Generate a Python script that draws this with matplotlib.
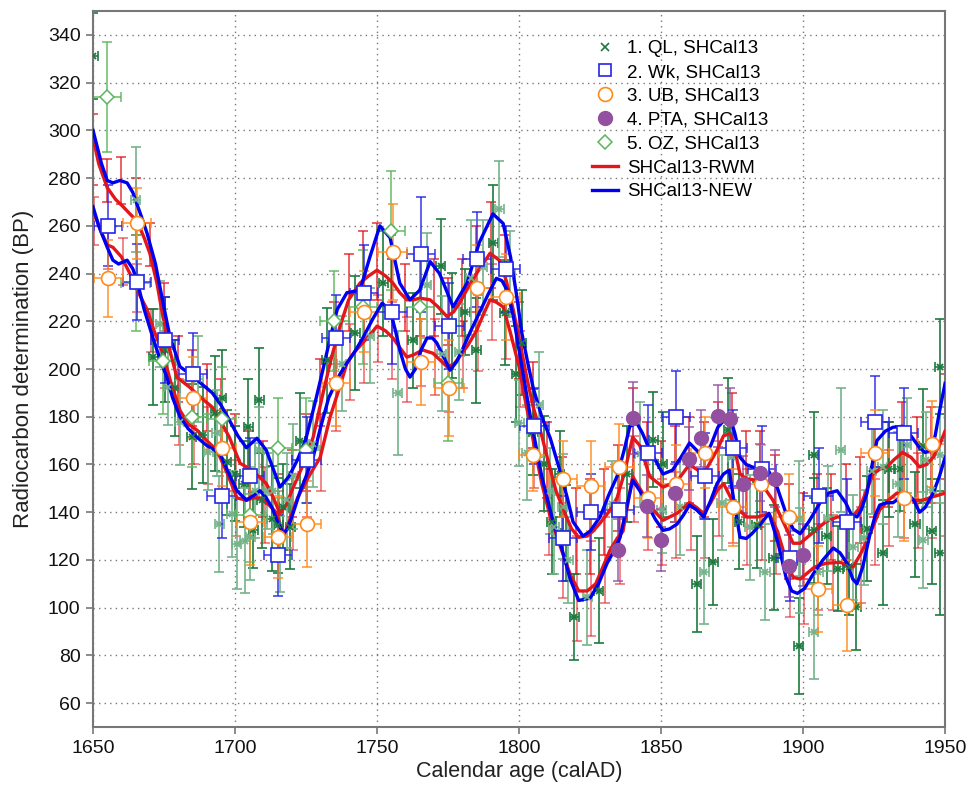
import numpy as np
import matplotlib
matplotlib.use("Agg")
from matplotlib import pyplot as plt
from matplotlib.lines import Line2D

plt.rcParams['font.family'] = ['Liberation Sans', 'DejaVu Sans']

# ---- dataset 1: QL ----
ql_x = [1650, 1665, 1671.2, 1673.6, 1675.4, 1676.5, 1679, 1680.6, 1684.7, 1687, 1688.8, 1690.6,
        1693, 1693.6, 1695.3, 1694.5, 1697, 1698.8, 1700, 1700.6, 1703, 1703.5, 1704.7, 1705.3,
        1706.5, 1707, 1708.6, 1708.6, 1709.4, 1711.2, 1713, 1713.5, 1715.2, 1715.8, 1717, 1718.2,
        1719.4, 1720.5, 1722.9, 1727.6, 1732.3, 1737.6, 1742.3, 1747.5, 1752.2, 1757.3, 1762.6,
        1767.5, 1772.4, 1772.8, 1776.3, 1779, 1781, 1783, 1785, 1787.2, 1791, 1793, 1795, 1796.8,
        1799, 1800, 1801, 1802.7, 1805, 1807, 1808.8, 1810.9, 1811.5, 1812.3, 1814.4, 1815.4,
        1816.4, 1817.4, 1819.4, 1824, 1828, 1832.7, 1838, 1842.6, 1847.3, 1850.3, 1850.6, 1856.7,
        1862.6, 1865.2, 1868.4, 1871.4, 1873.7, 1875, 1877.6, 1881.3, 1883.7, 1886.6, 1889.6,
        1898.4, 1898.4, 1899, 1903.7, 1903.7, 1903.7, 1905.4, 1908.3, 1908.9, 1912.4, 1913.3,
        1916, 1917.7, 1918.7, 1921.5, 1922.5, 1924.2, 1928, 1928, 1930.4, 1933.3, 1934.1, 1936.5,
        1939.4, 1942.4, 1942.4, 1943.3, 1945.3, 1945.3, 1948.2, 1948.2, 1948.2]
ql_y = [331, 271, 205, 219, 208, 192.5, 192, 177.6, 171.6, 196, 172.3, 165.2,
        181.4, 173, 188, 135, 161, 139.4, 156.2, 126.8, 152, 128, 175.7, 129.6,
        132.5, 149, 187, 166, 145, 149, 137.3, 149, 134.5, 122.6, 142.2, 145,
        134, 155, 170, 168.7, 203.7, 202.3, 215, 214, 236, 190, 212,
        235, 243, 206.5, 218.4, 207.2, 224, 238.3, 207.8, 242.6, 253, 267, 223.5, 240,
        198, 177.4, 211, 165, 173.6, 185, 160.4, 149, 136, 134, 156, 142.2,
        131.3, 120, 96, 104.3, 107, 143.3, 156, 164.3, 170.4, 141, 160, 142,
        110, 115, 119, 144, 174.4, 163, 136, 133.7, 134.5, 115, 121,
        137.3, 84, 119.8, 164, 90, 132.4, 115, 130, 137.3, 116.4, 166.2,
        117, 125.4, 100.3, 129.4, 133, 157.3, 123, 159, 158, 151.7, 158.3, 168,
        135, 128.3, 167.8, 162, 132, 149.5, 123, 164, 201]
ql_err = [18, 22, 20, 18, 22, 16, 20, 18, 22, 18, 20, 16,
          24, 18, 20, 20, 22, 18, 20, 19, 18, 22, 20, 18,
          16, 20, 22, 18, 20, 16, 22, 18, 20, 16, 18, 20,
          18, 22, 20, 18, 22, 20, 24, 20, 22, 26, 20,
          22, 20, 24, 22, 20, 18, 24, 22, 20, 24, 20, 22, 18,
          20, 18, 22, 20, 18, 22, 20, 18, 22, 20, 18, 22,
          20, 18, 18, 20, 22, 18, 20, 22, 20, 18, 22, 20,
          20, 22, 18, 20, 22, 18, 20, 22, 18, 20, 22,
          24, 20, 22, 18, 20, 22, 18, 20, 22, 18, 26,
          20, 22, 18, 20, 22, 18, 22, 24, 20, 22, 18, 20,
          22, 20, 24, 20, 22, 18, 26, 20, 20]

# ---- dataset 2: Wk ----
wk_x = [1655.3, 1665.4, 1675.4, 1685.3, 1695.3, 1705.3, 1715.2, 1725.2, 1735.5, 1745.4, 1755.4,
        1765.4, 1775.5, 1785.3, 1795.3, 1805.4, 1815.4, 1825.4, 1835.3, 1845.3, 1855.3, 1865.5,
        1875.3, 1885.5, 1895.5, 1905.5, 1915.4, 1925.4, 1935.4]
wk_y = [260, 236.5, 212, 198, 147, 155, 122, 162, 213, 232, 224,
        248, 218, 246, 242, 176, 129, 140, 141, 165, 180, 155,
        167, 158, 121, 147, 136, 178, 173]
wk_err = [17, 16, 18, 17, 18, 16, 17, 18, 18, 20, 22,
          24, 18, 20, 18, 16, 18, 16, 18, 20, 19, 18,
          16, 18, 18, 20, 18, 19, 19]

# ---- dataset 3: UB ----
ub_x = [1655.4, 1665.4, 1685.3, 1695.3, 1705.3, 1715.2, 1725.2, 1735.5, 1745.4, 1755.5, 1765.4,
        1775.5, 1785.3, 1795.3, 1805, 1815.4, 1825.4, 1835.3, 1845.3, 1855.3, 1865.5, 1875.3,
        1885.2, 1895.2, 1905.2, 1915.4, 1925.4, 1935.4, 1945.4]
ub_y = [238, 261, 188, 167, 136, 129.6, 135, 194, 224, 249, 203,
        192, 234, 230, 164, 154, 151, 159, 146, 152, 165, 142,
        152, 138, 108, 101, 165, 146, 168.5]
ub_err = [16, 15, 17, 16, 18, 17, 18, 18, 17, 20, 18,
          20, 18, 18, 15, 16, 19, 18, 17, 16, 15, 16,
          16, 18, 18, 19, 18, 18, 18]

# ---- dataset 4: PTA ----
pta_x = [1835, 1840, 1845, 1850, 1855, 1860, 1864, 1870, 1874.4, 1879, 1885, 1890, 1895, 1900]
pta_y = [124, 179.6, 142.5, 128.5, 148, 162.5, 171, 180.3, 179, 151.7, 156.5, 154, 117.3, 122]
pta_err = [13, 15, 13, 13, 12, 13, 12, 13, 13, 12, 12, 12, 13, 13]

# ---- dataset 5: OZ ----
oz_x = [1655, 1665, 1674.6, 1685, 1695.3, 1705.3, 1715, 1725, 1735, 1745, 1755, 1765, 1775]
oz_y = [314, 236, 203.3, 180, 179, 139, 167, 166, 220, 226, 258, 226, 194]
oz_err = [23, 20, 22, 21, 22, 20, 21, 22, 21, 24, 25, 22, 24]

# ---- red error bars ----
rb_x = list(range(1650, 1951, 5))
rb_hi = [292, 279, 279, 268, 252, 222, 200, 192, 188, 180, 165, 160, 154, 142, 152, 165,
         190, 212, 232, 240, 245, 240, 230, 232, 230, 224, 230, 242, 252, 240, 212, 185,
         162, 145, 132, 134, 140, 150, 172, 160, 152, 156, 162, 158, 168, 170, 156, 154,
         146, 132, 130, 136, 138, 140, 145, 158, 160, 166, 162, 164, 176]
rb_lo = [262, 250, 245, 234, 216, 204, 182, 174, 168, 160, 146, 144, 143, 135, 140, 152,
         165, 188, 203, 210, 217, 212, 204, 207, 205, 200, 206, 215, 228, 222, 200, 168,
         140, 124, 108, 108, 120, 130, 154, 144, 136, 139, 144, 139, 150, 145, 138, 138,
         134, 114, 113, 117, 119, 118, 122, 136, 146, 147, 145, 147, 150]
rb_err_hi = [15, 9, 10, 12, 9, 14, 14, 16, 14, 16, 16, 14, 16, 14, 14, 16,
             14, 16, 16, 18, 16, 16, 14, 18, 16, 14, 16, 18, 18, 16, 16, 18,
             16, 18, 18, 20, 18, 18, 20, 18, 18, 20, 18, 20, 18, 20, 18, 20,
             18, 20, 18, 20, 18, 20, 18, 20, 18, 20, 18, 20, 22]
rb_err_lo = [10, 8, 10, 10, 9, 12, 14, 14, 16, 14, 16, 14, 16, 14, 16, 14,
             16, 14, 16, 16, 14, 16, 18, 14, 16, 18, 14, 16, 16, 18, 16, 18,
             18, 20, 22, 20, 18, 20, 18, 20, 18, 18, 20, 18, 20, 18, 20, 18,
             20, 18, 20, 18, 20, 18, 20, 18, 20, 18, 20, 18, 20]

# ---- SHCal13-RWM envelope ----
rwm_hi_x = [1650, 1652, 1655, 1658, 1660.6, 1663, 1665.5, 1668, 1670, 1672.5, 1674.6, 1677, 1679.5,
            1684, 1688, 1692, 1695, 1698, 1701.8, 1706, 1711, 1713.5, 1715.8, 1718, 1720, 1724,
            1727.5, 1731, 1734, 1737, 1740, 1744, 1747, 1750, 1753, 1755.6, 1758, 1760.5, 1763,
            1765, 1768.7, 1771.5, 1774.6, 1777, 1779, 1782, 1785, 1789.8, 1793, 1795.5, 1798,
            1800.5, 1802.8, 1805, 1808, 1811, 1813, 1816, 1818.5, 1821, 1824, 1826, 1828.5,
            1831.5, 1834.5, 1837, 1840, 1842.5, 1846, 1850.7, 1855.6, 1860, 1865, 1869.7, 1872,
            1874.3, 1876, 1877.8, 1880, 1883.8, 1886.5, 1889.4, 1893, 1896.5, 1899, 1901, 1904,
            1908, 1912, 1915.5, 1918, 1920, 1922, 1924.6, 1927, 1929.6, 1932, 1935, 1938, 1941,
            1943.5, 1945.8, 1948, 1950]
rwm_hi_y = [297, 286, 276, 271, 268, 265, 262, 255, 248.5, 236, 222, 208, 196.6,
            192.4, 188, 184, 178, 171.4, 160.5, 157.6, 152, 146, 139.5, 143, 149, 160,
            171.4, 190, 205, 218, 229, 236, 239, 241.4, 239, 236, 232, 229, 229,
            229.7, 229, 226, 222, 224, 227.6, 234, 240, 248.5, 245.6, 237, 224.6,
            210, 196, 184, 172, 158, 149, 140, 133, 129.5, 130, 132, 135.4,
            140, 146, 156, 171.4, 168, 155, 150.5, 153, 160, 156, 166, 172,
            173, 166, 156, 154, 153.4, 150, 145, 136, 127, 127, 129, 132,
            136, 138, 138, 139, 142, 148, 156, 158, 159, 162, 165, 163, 159,
            160, 163, 168, 174]
rwm_lo_x = [1650, 1653, 1655, 1657, 1660, 1663, 1666, 1669, 1671.5, 1674.6, 1677.5, 1680.6, 1683.5,
            1686.6, 1690, 1693.6, 1697, 1700.7, 1704, 1706.5, 1708.8, 1712, 1714.8, 1717, 1719,
            1722, 1726, 1730, 1733.5, 1737, 1739.4, 1742, 1745, 1748, 1750, 1753, 1755.6, 1758,
            1760.5, 1763, 1766, 1769.7, 1772, 1774.6, 1777, 1779, 1782, 1785, 1787.5, 1789.8,
            1792, 1794.4, 1797, 1800, 1802, 1805, 1808, 1811, 1815, 1818, 1821, 1824, 1827,
            1829.5, 1832, 1834.5, 1836.6, 1838.5, 1840, 1842.5, 1845, 1848, 1850.7, 1853,
            1855.6, 1858, 1860, 1862.5, 1865, 1867.5, 1869.7, 1872, 1875, 1877.5, 1880, 1884,
            1888, 1891, 1894, 1896.5, 1899, 1901, 1904, 1908, 1913, 1917.6, 1920, 1922.5, 1925,
            1927, 1930, 1933, 1936, 1938.7, 1942, 1945.8, 1950]
rwm_lo_y = [266.6, 257, 252, 251, 247, 240, 232, 225, 216, 206.6, 194, 182.7, 177,
            174.4, 170, 166, 157, 146, 145, 146, 146, 143, 139.5, 129.5, 136,
            146, 155, 163, 180, 193, 202.5, 207, 211, 215, 218, 216, 213, 209,
            205, 206, 208, 206.6, 204, 201, 202, 205, 210, 216, 223, 229,
            228, 226, 215, 201, 188, 170, 152, 138, 124, 114, 107, 107, 110,
            117, 124, 129, 132, 145, 155, 150, 145, 140, 136.6, 138,
            139.5, 142, 144, 142, 139.5, 144, 149, 152, 145, 141, 138, 138,
            139.5, 132, 120, 112.7, 112, 114, 117, 118.6, 119, 117, 122, 128, 135,
            141, 145, 148, 147, 145, 145, 146.5, 148]

# ---- SHCal13-NEW envelope ----
new_hi_x = [1650, 1653, 1655, 1657, 1659.5, 1662, 1664, 1667, 1669, 1672, 1674.6, 1677, 1680.6,
            1684, 1688, 1692, 1695, 1698, 1701, 1704, 1707.7, 1711, 1713.5, 1715.8, 1719, 1722,
            1725, 1728, 1731, 1733.5, 1736, 1739.4, 1744, 1747.5, 1751, 1754.6, 1758, 1761.6,
            1765, 1768.7, 1772, 1776.8, 1781.7, 1786, 1790.8, 1794.4, 1797, 1799, 1801, 1803,
            1805, 1808, 1811, 1814, 1817, 1819, 1822.5, 1825, 1828.5, 1831.5, 1834.5, 1837, 1839,
            1841.5, 1843.5, 1846, 1850.7, 1854, 1857, 1860, 1862.5, 1865, 1867.5, 1870, 1874,
            1876, 1877.8, 1880, 1882, 1885, 1888, 1891, 1894, 1896.5, 1899, 1902, 1906, 1909,
            1912, 1915, 1917, 1919, 1920.5, 1922.5, 1924, 1926, 1929, 1931.7, 1935, 1938, 1941,
            1943, 1944.7, 1946.5, 1948, 1950]
new_hi_y = [300, 286, 279, 278, 279, 278, 274, 264, 257, 244, 228, 214, 201,
            198, 194, 190, 185, 178.6, 172, 167, 171, 166, 158, 150.5, 155, 162,
            171, 185, 200, 213, 225, 232, 233, 247, 260, 255, 236, 229,
            233, 245, 240, 226, 236, 253, 265, 261, 247, 232, 215, 203,
            192, 180, 171, 159, 146, 136, 130, 132, 138, 147, 155, 166, 176,
            177.3, 173, 166, 156, 157.6, 163, 169, 166, 163, 168, 175.6, 181,
            173, 163, 160, 159, 158, 157, 150, 139.5, 133, 131, 136, 144, 148,
            149, 144, 139, 138, 141, 148, 158, 170, 174, 175.6, 176, 172, 167,
            165, 166, 172, 182, 194]
new_lo_x = [1650, 1652, 1655, 1657, 1659, 1662, 1664, 1665.5, 1668, 1671, 1673.6, 1676, 1678,
            1680.6, 1683.5, 1686.6, 1690, 1694.7, 1697.5, 1700.7, 1704, 1706.5, 1708.8, 1711,
            1713, 1715, 1717, 1718.5, 1720, 1723, 1725, 1727.5, 1730, 1733, 1737, 1739.4, 1742,
            1745, 1748.5, 1751.8, 1754.6, 1756.5, 1758, 1760, 1761.6, 1763.5, 1765.5, 1767.6,
            1769.5, 1771, 1773.5, 1775.7, 1778, 1780, 1783, 1786, 1789, 1792, 1794, 1795.8,
            1798, 1800, 1804, 1808, 1812, 1815, 1818, 1821, 1825, 1828, 1831, 1833.5, 1835.6,
            1837.5, 1840, 1842.5, 1845, 1848, 1850.7, 1853, 1855.6, 1858, 1860, 1862.5, 1865,
            1867.5, 1869.7, 1872, 1874, 1876, 1877.8, 1880, 1882, 1885, 1888, 1891, 1894, 1896,
            1898, 1900.5, 1903.5, 1907, 1910.6, 1913, 1915.5, 1917.5, 1919, 1921, 1923.6, 1925.5,
            1927, 1929.5, 1931.7, 1934, 1936.6, 1939, 1941, 1943, 1945.8, 1948, 1950]
new_lo_y = [268, 260, 251, 245.6, 244, 245.6, 242, 237, 225, 213.4, 204, 196.6, 188,
            180, 175, 171.4, 168, 164.7, 157, 149, 145, 147, 149, 146,
            142, 136, 131, 133, 138, 149, 155, 163, 175, 188, 198, 202.5, 207,
            213, 221, 227.6, 224.6, 216, 208, 200, 196.6, 200, 208, 213,
            213, 211, 205, 199.5, 203, 208, 216, 223.5, 231, 238, 237, 233,
            222, 208, 180, 155, 136, 125, 112, 103, 104, 110, 118.6, 124, 129.5,
            140, 153.4, 149, 143.7, 137, 132.4, 133, 135, 139, 143, 141, 138,
            145, 152, 156, 157.6, 142, 129.5, 129, 131, 135, 139.5, 128, 112.7, 107,
            106, 108, 114, 120, 125, 123, 118.6, 112, 110, 117, 131, 139,
            143, 144, 144, 146, 148, 145, 140, 142, 148, 155, 163]

c_ql = '#1b7a3e'
c_ql_lt = '#74b38a'
c_wk = '#2525e8'
c_ub = '#ff8a1c'
c_pta = '#9450a0'
c_oz = '#5ab65a'
c_rwm = '#e3161c'
c_new = '#0000f0'

fig = plt.figure(figsize=(9.7, 7.88), dpi=100)
ax = fig.add_axes([0.0959, 0.0774, 0.8784, 0.9086])

eb = dict(fmt='none', capsize=3.5, elinewidth=1.2, capthick=1.2, zorder=2)

# red bars, no centre marker
ax.errorbar(rb_x, rb_hi, yerr=rb_err_hi, ecolor=c_rwm, alpha=0.8, **eb)
ax.errorbar([x + 0.4 for x in rb_x], rb_lo, yerr=rb_err_lo, ecolor=c_rwm, alpha=0.6, **eb)

# QL: alternate dark and light shades
ql_x = np.array(ql_x); ql_y = np.array(ql_y); ql_err = np.array(ql_err)
dark = np.arange(len(ql_x)) % 2 == 0
for sel, col in [(dark, c_ql), (~dark, c_ql_lt)]:
    ax.errorbar(ql_x[sel], ql_y[sel], yerr=ql_err[sel], xerr=1.6, ecolor=col, **eb)
    ax.plot(ql_x[sel], ql_y[sel], 'x', color=col, ms=5, mew=1.3, zorder=4)

ax.errorbar(oz_x, oz_y, yerr=oz_err, xerr=5, ecolor=c_oz, alpha=0.85, **eb)
ax.errorbar(wk_x, wk_y, yerr=wk_err, xerr=5, ecolor=c_wk, alpha=0.85, **eb)
ax.errorbar(ub_x, ub_y, yerr=ub_err, xerr=5, ecolor=c_ub, alpha=0.85, **eb)
ax.errorbar(pta_x, pta_y, yerr=pta_err, ecolor=c_pta, alpha=0.85, **eb)

# calibration curves (upper and lower 1-sigma)
ax.plot(rwm_hi_x, rwm_hi_y, color=c_rwm, lw=2.4, zorder=3)
ax.plot(rwm_lo_x, rwm_lo_y, color=c_rwm, lw=2.4, zorder=3)
ax.plot(new_hi_x, new_hi_y, color=c_new, lw=2.4, zorder=3)
ax.plot(new_lo_x, new_lo_y, color=c_new, lw=2.4, zorder=3)

ax.plot(oz_x, oz_y, 'D', mfc='white', mec=c_oz, ms=7, mew=1.1, zorder=5)
ax.plot(wk_x, wk_y, 's', mfc='white', mec=c_wk, ms=9.5, mew=1.2, zorder=5)
ax.plot(ub_x, ub_y, 'o', mfc='white', mec=c_ub, ms=10, mew=1.2, zorder=5)
ax.plot(pta_x, pta_y, 'o', color=c_pta, ms=10, zorder=5)

ax.set_xlim(1650, 1950)
ax.set_ylim(50, 350)
ax.set_xticks(np.arange(1650, 1951, 50))
ax.set_yticks(np.arange(60, 341, 20))
ax.grid(True, linestyle=(0, (1, 3)), color='#777777', lw=1.0)
ax.set_axisbelow(True)
for s in ['top', 'right', 'left', 'bottom']:
    ax.spines[s].set_color('#777777')
    ax.spines[s].set_linewidth(1.5)
ax.tick_params(direction='out', length=5, width=1.2, color='#777777', labelsize=14,
               labelcolor='#111111', top=False, right=False, pad=4)
ax.set_xlabel('Calendar age (calAD)', fontsize=15.5, color='#222222', labelpad=3)
ax.set_ylabel('Radiocarbon determination (BP)', fontsize=16, color='#222222', labelpad=10)

handles = [
    Line2D([], [], ls='none', marker='x', color=c_ql, ms=5.5, mew=1.2),
    Line2D([], [], ls='none', marker='s', mfc='white', mec=c_wk, ms=9, mew=1.2),
    Line2D([], [], ls='none', marker='o', mfc='white', mec=c_ub, ms=10, mew=1.2),
    Line2D([], [], ls='none', marker='o', color=c_pta, ms=10),
    Line2D([], [], ls='none', marker='D', mfc='white', mec=c_oz, ms=7, mew=1.1),
    Line2D([], [], color=c_rwm, lw=2.4),
    Line2D([], [], color=c_new, lw=2.4),
]
labels = ['1. QL, SHCal13', '2. Wk, SHCal13', '3. UB, SHCal13', '4. PTA, SHCal13',
          '5. OZ, SHCal13', 'SHCal13-RWM', 'SHCal13-NEW']
leg = ax.legend(handles, labels, loc='upper left', bbox_to_anchor=(0.577, 0.97), frameon=False,
                fontsize=13.5, handlelength=1.4, handletextpad=0.45, labelspacing=0.36,
                borderaxespad=0)
leg.set_zorder(10)

plt.savefig('out.png', dpi=100)
